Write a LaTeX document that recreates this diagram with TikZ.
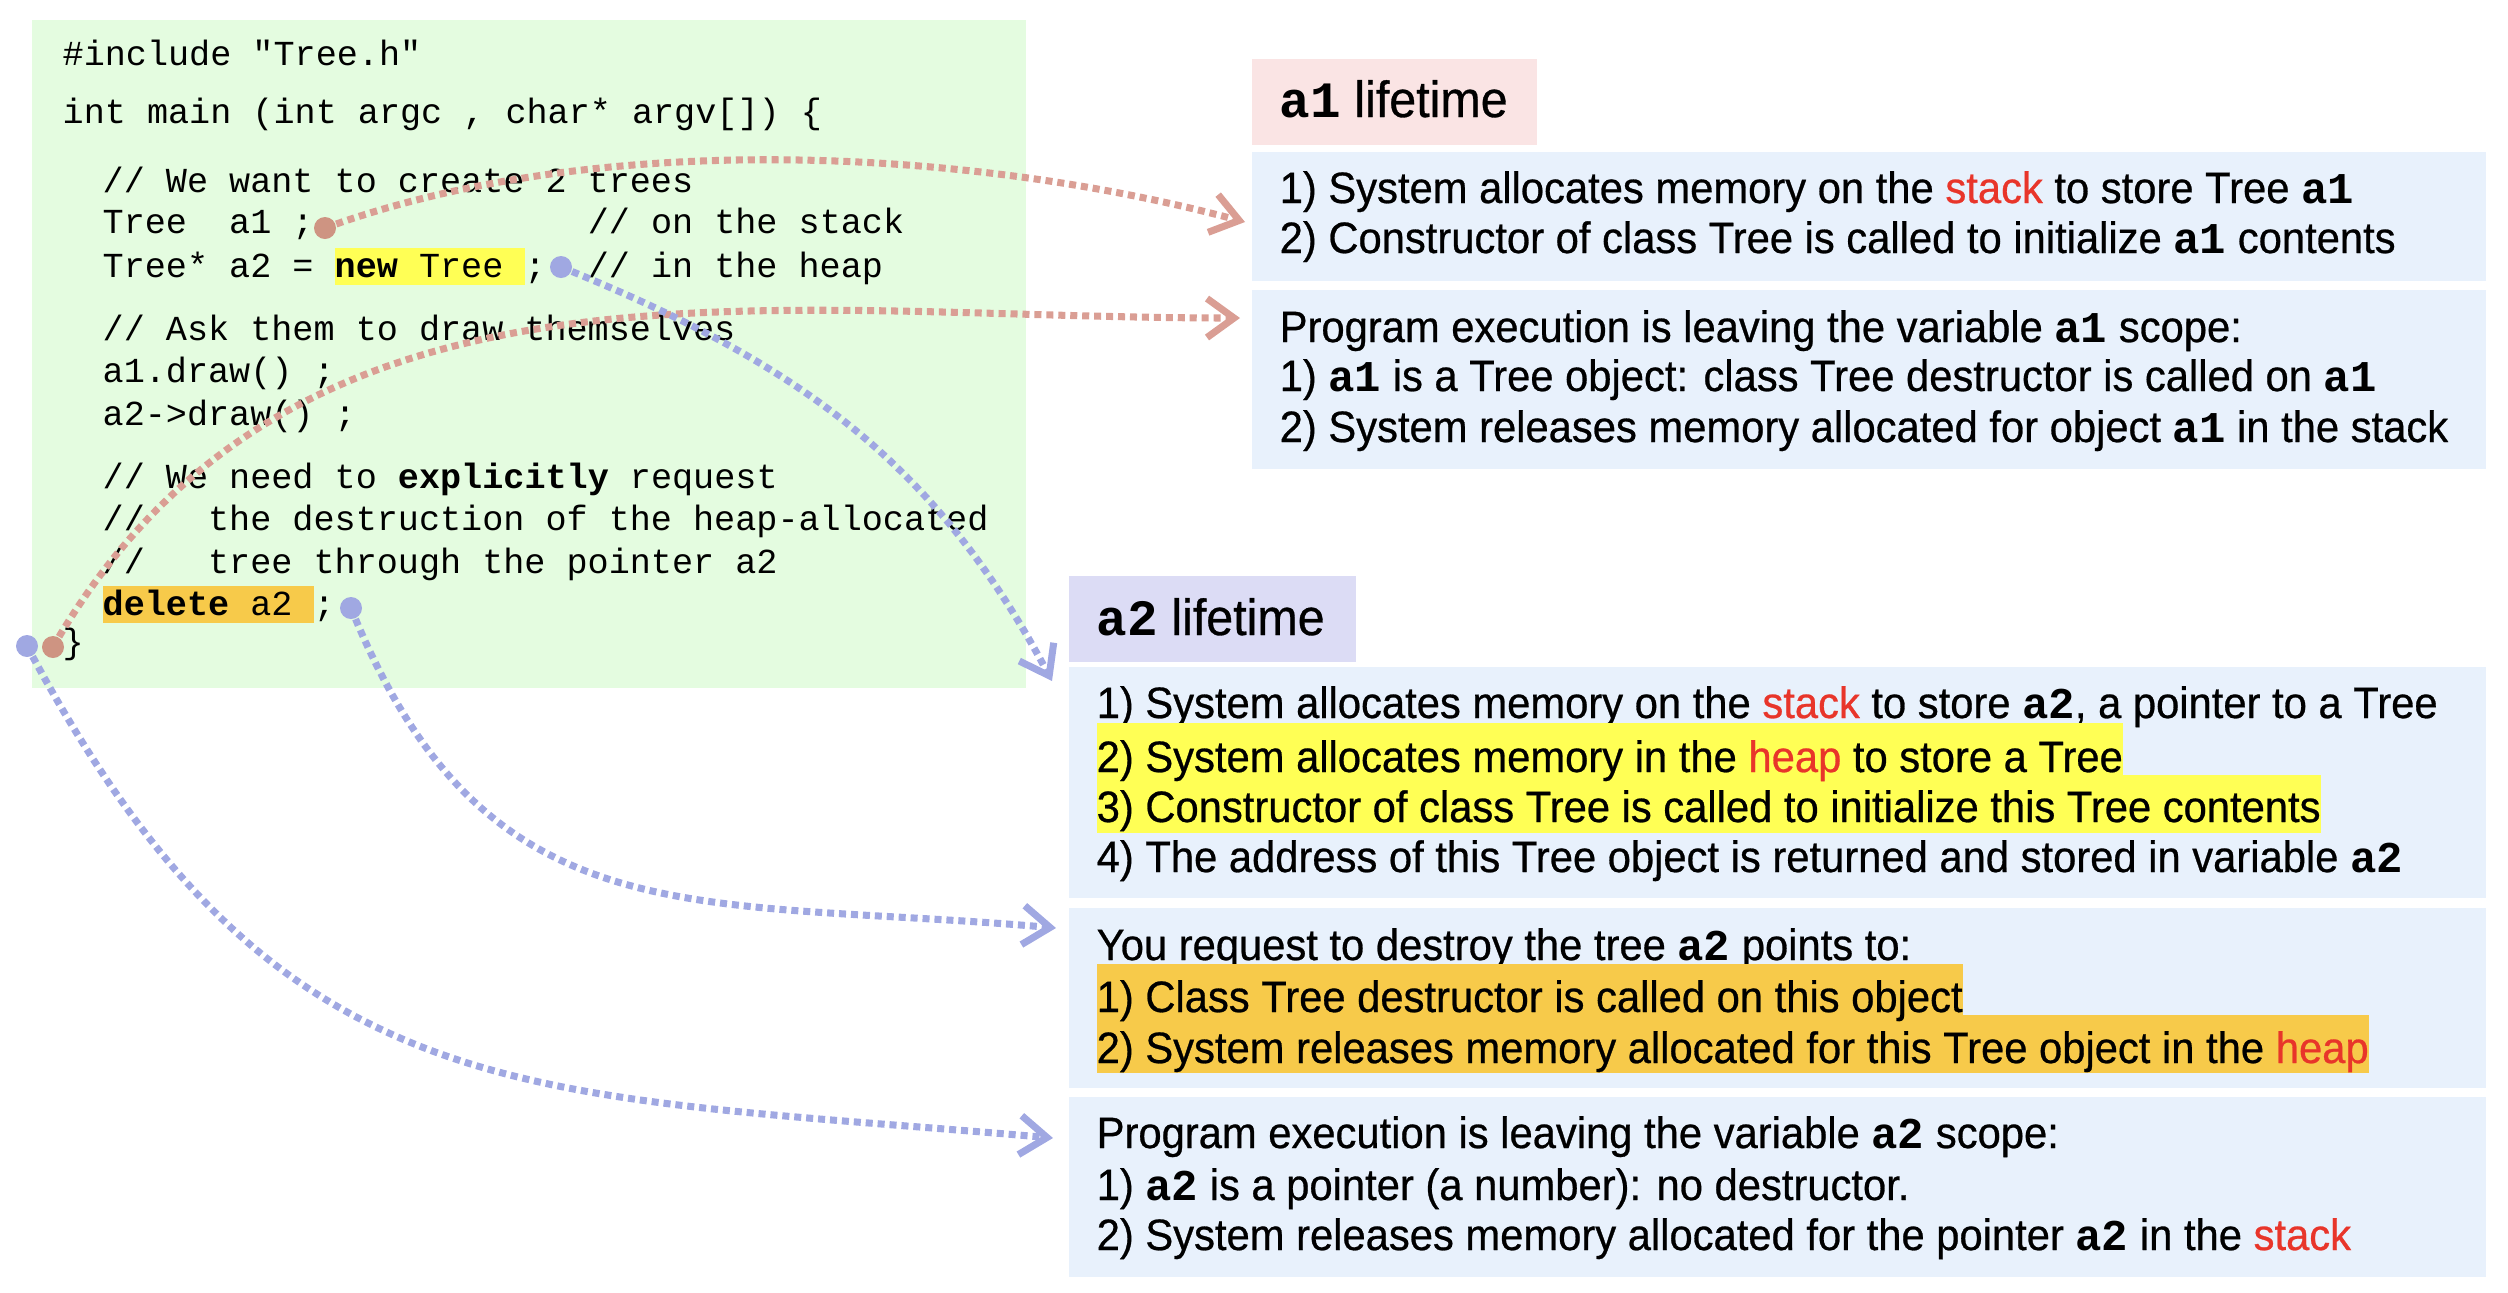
\documentclass[tikz,border=0pt]{standalone}
\usepackage{fontspec}
\setmainfont[FakeStretch=0.95,FakeBold=0.6]{Liberation Sans}
\setmonofont{Liberation Mono}
\usetikzlibrary{arrows.meta}

\definecolor{codegreen}{RGB}{228,252,224}
\definecolor{panelblue}{RGB}{232,241,252}
\definecolor{tagpink}{RGB}{250,228,228}
\definecolor{taglilac}{RGB}{220,220,245}
\definecolor{hlyellow}{RGB}{255,255,85}
\definecolor{hlorange}{RGB}{247,202,74}
\definecolor{hotred}{RGB}{232,53,42}
\definecolor{linkpink}{RGB}{218,158,148}
\definecolor{dotpink}{RGB}{206,148,130}
\definecolor{linkblue}{RGB}{160,168,226}

\newcommand{\vname}[1]{{\ttfamily\bfseries #1}}
\newcommand{\hotword}[1]{\textcolor{hotred}{#1}}
\newcommand{\hlcode}[2]{{\setlength{\fboxsep}{0pt}\colorbox{#1}{\rule[-2.3pt]{0pt}{10.5pt}#2}}}

\begin{document}
\begin{tikzpicture}[x=1cm,y=1cm]
  \tikzset{
    panel/.style={anchor=north west, inner sep=0pt, outer sep=0pt, fill=panelblue},
    code/.style={anchor=base west, inner sep=0pt, font=\ttfamily\fontsize{10}{12}\selectfont},
    txt/.style={anchor=base west, inner sep=0pt, font=\fontsize{12.5}{14}\selectfont},
    tagtxt/.style={anchor=base west, inner sep=0pt, font=\fontsize{14.5}{17}\selectfont},
    dot/.style={circle, inner sep=0pt, minimum size=0.22cm, fill=#1},
    link/.style={line width=2pt, dash pattern=on 2pt off 1.4pt, draw=#1,
      -{Straight Barb[length=2.7mm,width=3.9mm]}}
  }
  \useasboundingbox (0,0) rectangle (25.08,-12.92);

  % Code panel
  \node[panel, fill=codegreen, minimum width=9.94cm, minimum height=6.68cm] (codebox) at (0.32,-0.20) {};
  \node[code] (l01) at (0.62,-0.65) {\#include "Tree.h"};
  \node[code] (l02) at (0.62,-1.23) {int main (int argc , char* argv[]) \{};
  \node[code] (l03) at (1.02,-1.92) {// We want to create 2 trees};
  \node[code] (l04) at (1.02,-2.33) {Tree\ \ a1 ;\phantom{0000000000000}// on the stack};
  \node[code] (l05) at (1.02,-2.77) {Tree* a2 = \hlcode{hlyellow}{\textbf{new} Tree\ };\ \ // in the heap};
  \node[code] (l06) at (1.02,-3.40) {// Ask them to draw themselves};
  \node[code] (l07) at (1.02,-3.82) {a1.draw() ;};
  \node[code] (l08) at (1.02,-4.25) {a2->draw() ;};
  \node[code] (l09) at (1.02,-4.88) {// We need to \textbf{explicitly} request};
  \node[code] (l10) at (1.02,-5.30) {//\ \ \ the destruction of the heap-allocated};
  \node[code] (l11) at (1.02,-5.73) {//\ \ \ tree through the pointer a2};
  \node[code] (l12) at (1.02,-6.15) {\hlcode{hlorange}{\textbf{delete} a2\ };};
  \node[code] (l13) at (0.62,-6.53) {\}};

  % a1 lifetime
  \node[panel, fill=tagpink, minimum width=2.85cm, minimum height=0.86cm] (a1tag) at (12.52,-0.59) {};
  \node[tagtxt] (a1tagtxt) at (12.79,-1.17) {\vname{a1} lifetime};

  \node[panel, minimum width=12.34cm, minimum height=1.29cm] (a1born) at (12.52,-1.52) {};
  \node[txt] (a1bornA) at (12.79,-2.03) {1) System allocates memory on the \hotword{stack} to store Tree \vname{a1}};
  \node[txt] (a1bornB) at (12.79,-2.53) {2) Constructor of class Tree is called to initialize \vname{a1} contents};

  \node[panel, minimum width=12.34cm, minimum height=1.79cm] (a1gone) at (12.52,-2.90) {};
  \node[txt] (a1goneA) at (12.79,-3.42) {Program execution is leaving the variable \vname{a1} scope:};
  \node[txt] (a1goneB) at (12.79,-3.91) {1) \vname{a1} is a Tree object: class Tree destructor is called on \vname{a1}};
  \node[txt] (a1goneC) at (12.79,-4.42) {2) System releases memory allocated for object \vname{a1} in the stack};

  % a2 lifetime
  \node[panel, fill=taglilac, minimum width=2.87cm, minimum height=0.86cm] (a2tag) at (10.69,-5.76) {};
  \node[tagtxt] (a2tagtxt) at (10.96,-6.35) {\vname{a2} lifetime};

  \node[panel, minimum width=14.17cm, minimum height=2.31cm] (a2born) at (10.69,-6.67) {};
  \node[txt] (a2bornA) at (10.96,-7.18) {1) System allocates memory on the \hotword{stack} to store \vname{a2}, a pointer to a Tree};
  \node[txt, fill=hlyellow, text height=13.4pt, text depth=3.1pt] (a2bornC) at (10.96,-8.22) {3) Constructor of class Tree is called to initialize this Tree contents};
  \node[txt, fill=hlyellow, text height=13.9pt, text depth=0.9pt] (a2bornB) at (10.96,-7.72) {2) System allocates memory in the \hotword{heap} to store a Tree};
  \node[txt] (a2bornD) at (10.96,-8.72) {4) The address of this Tree object is returned and stored in variable \vname{a2}};

  \node[panel, minimum width=14.17cm, minimum height=1.80cm] (a2free) at (10.69,-9.08) {};
  \node[txt] (a2freeA) at (10.96,-9.60) {You request to destroy the tree \vname{a2} points to:};
  \node[txt, fill=hlorange, text height=13.7pt, text depth=2.9pt] (a2freeC) at (10.96,-10.63) {2) System releases memory allocated for this Tree object in the \hotword{heap}};
  \node[txt, fill=hlorange, text height=13.7pt, text depth=0.9pt] (a2freeB) at (10.96,-10.12) {1) Class Tree destructor is called on this object};

  \node[panel, minimum width=14.17cm, minimum height=1.80cm] (a2gone) at (10.69,-10.97) {};
  \node[txt] (a2goneA) at (10.96,-11.48) {Program execution is leaving the variable \vname{a2} scope:};
  \node[txt] (a2goneB) at (10.96,-12.00) {1) \vname{a2} is a pointer (a number): no destructor.};
  \node[txt] (a2goneC) at (10.96,-12.50) {2) System releases memory allocated for the pointer \vname{a2} in the \hotword{stack}};

  % Links from the code to the lifetime steps
  \coordinate (a1decl) at (3.25,-2.28);
  \coordinate (a2decl) at (5.61,-2.67);
  \coordinate (a2del) at (3.51,-6.08);
  \coordinate (a2end) at (0.27,-6.46);
  \coordinate (a1end) at (0.53,-6.47);
  \coordinate (a1bornin) at (12.45,-2.22);
  \coordinate (a1gonein) at (12.40,-3.18);
  \coordinate (a2bornin) at (10.52,-6.81);
  \coordinate (a2freein) at (10.56,-9.28);
  \coordinate (a2gonein) at (10.53,-11.38);

  \draw[link=linkpink] (a1decl) to[out=20, in=165, looseness=0.8] (a1bornin);
  \draw[link=linkpink] (a1end) to[out=60, in=180] (a1gonein);
  \draw[link=linkblue] (a2decl) to[out=-22, in=118] (a2bornin);
  \draw[link=linkblue] (a2del) to[out=-68, in=175, looseness=1.2] (a2freein);
  \draw[link=linkblue] (a2end) to[out=-62, in=175, looseness=1.2] (a2gonein);

  \node[dot=dotpink] (a1declpt) at (a1decl) {};
  \node[dot=linkblue] (a2declpt) at (a2decl) {};
  \node[dot=linkblue] (a2delpt) at (a2del) {};
  \node[dot=linkblue] (a2endpt) at (a2end) {};
  \node[dot=dotpink] (a1endpt) at (a1end) {};

\end{tikzpicture}
\end{document}
